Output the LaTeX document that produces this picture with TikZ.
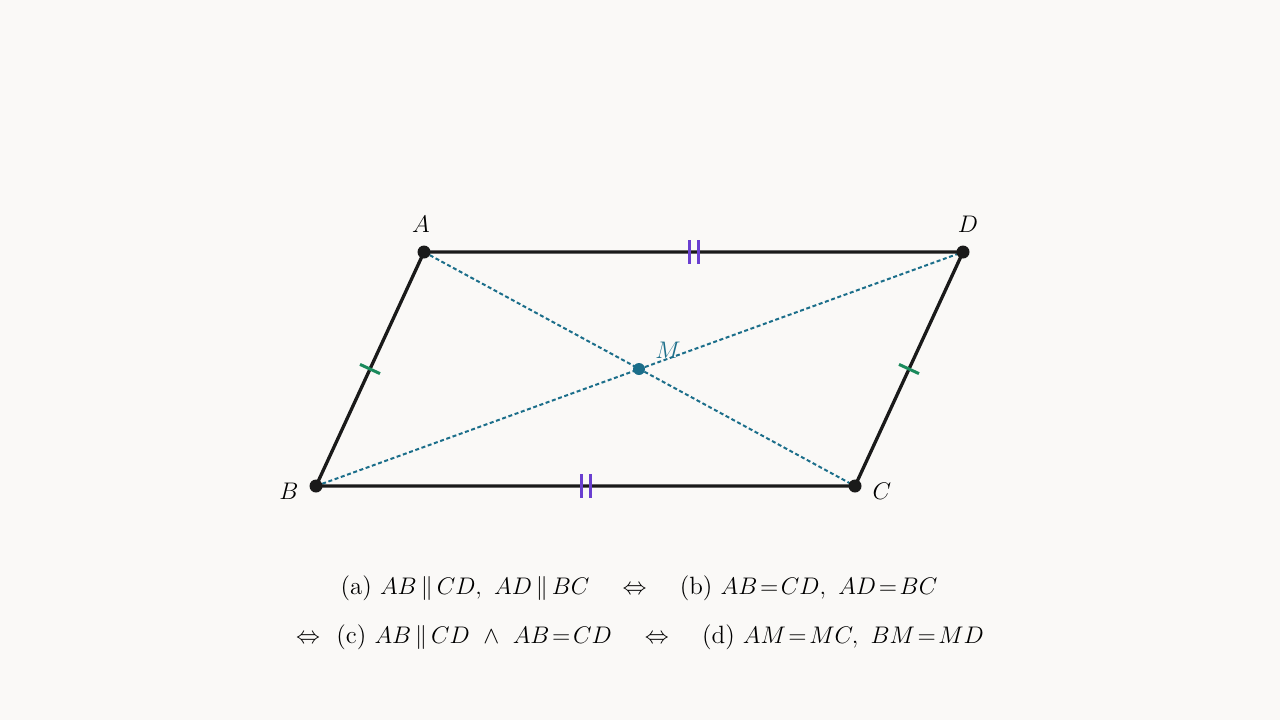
\documentclass[tikz,border=0pt]{standalone}
\usepackage{amsmath}
\usetikzlibrary{calc}
\definecolor{bg}{HTML}{FAF9F7}
\definecolor{edge}{HTML}{1A1A1A}
\definecolor{diag}{HTML}{1B6E8A}
\definecolor{tickg}{HTML}{1A8A5C}
\definecolor{tickp}{HTML}{6A3FD0}
\begin{document}
\begin{tikzpicture}[x=0.5pt,y=-0.5pt,
  edgeline/.style={draw=edge,line width=1.65pt},
  diagline/.style={draw=diag,line width=1pt,dash pattern=on 2pt off 1.3pt},
  vdot/.style={circle,fill=edge,inner sep=0pt,minimum size=6.5pt},
  mdot/.style={circle,fill=diag,inner sep=0pt,minimum size=6pt},
  ptlabel/.style={inner sep=0pt,font=\fontsize{12}{14}\selectfont},
  tickgreen/.style={draw=tickg,line width=1.5pt},
  tickpurple/.style={draw=tickp,line width=1.5pt},
  formula/.style={inner sep=0pt,font=\fontsize{12.5}{15}\selectfont}]
\fill[bg] (0,0) rectangle (1280,720);
\useasboundingbox (0,0) rectangle (1280,720);
\coordinate (A) at (424,252);
\coordinate (D) at (963,252);
\coordinate (B) at (316,486);
\coordinate (C) at (855,486);
\coordinate (M) at (639,369);
% diagonals
\draw[diagline] (A) -- (C);
\draw[diagline] (B) -- (D);
% sides
\draw[edgeline,line join=round] (A) -- (D) -- (C) -- (B) -- cycle;
% ticks green on AB and CD
\coordinate (mAB) at ($(A)!0.5!(B)$);
\coordinate (mDC) at ($(D)!0.5!(C)$);
\draw[tickgreen] ($(mAB)!5.5pt!90:(B)$) -- ($(mAB)!5.5pt!-90:(B)$);
\draw[tickgreen] ($(mDC)!5.5pt!90:(C)$) -- ($(mDC)!5.5pt!-90:(C)$);
% double ticks purple on AD and BC
\coordinate (mAD) at ($(A)!0.5!(D)$);
\coordinate (mBC) at ($(B)!0.5!(C)$);
\foreach \s in {-4.5,4.5}{
  \draw[tickpurple] ($(mAD)+(\s,-12)$) -- ($(mAD)+(\s,12)$);
  \draw[tickpurple] ($(mBC)+(\s,-12)$) -- ($(mBC)+(\s,12)$);
}
% points
\node[vdot] (pA) at (A) {};
\node[vdot] (pD) at (D) {};
\node[vdot] (pB) at (B) {};
\node[vdot] (pC) at (C) {};
\node[mdot] (pM) at (M) {};
% labels
\node[ptlabel] (lA) at (421,224) {$A$};
\node[ptlabel] (lD) at (968,224) {$D$};
\node[ptlabel] (lB) at (289,491) {$B$};
\node[ptlabel] (lC) at (882,491) {$C$};
\node[ptlabel,text=diag] (lM) at (668,350) {$M$};
% formulas
\node[formula] (f1) at (639,588) {(a) $AB\,\|\,CD,\ AD\,\|\,BC$\quad\ $\Leftrightarrow$\quad\ (b) $AB\!=\!CD,\ AD\!=\!BC$};
\node[formula] (f2) at (640,637) {$\Leftrightarrow$\ \ (c) $AB\,\|\,CD\ \wedge\ AB\!=\!CD$\quad\ $\Leftrightarrow$\quad\ (d) $AM\!=\!MC,\ BM\!=\!MD$};
\end{tikzpicture}
\end{document}
